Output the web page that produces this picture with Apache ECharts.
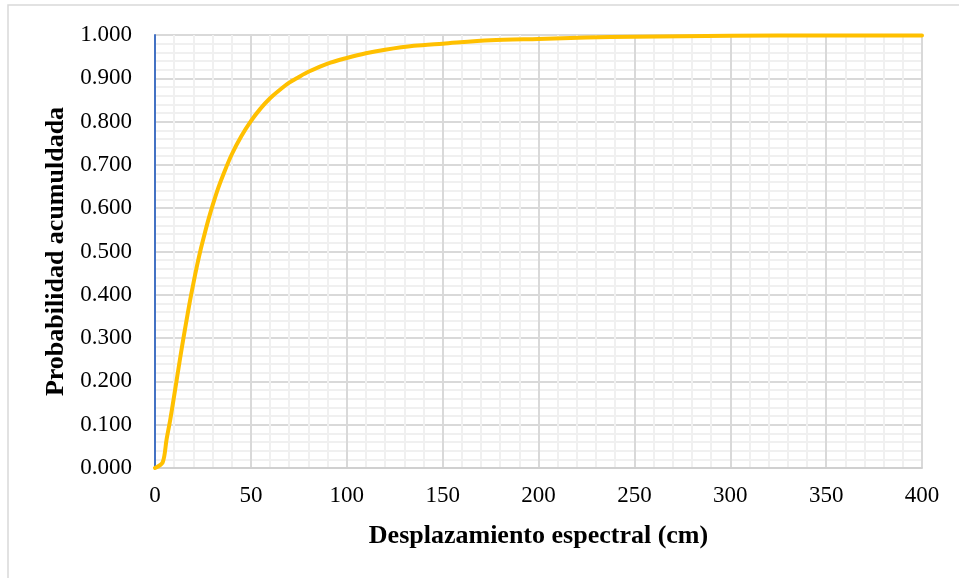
<!DOCTYPE html>
<html>
<head>
<meta charset="utf-8">
<script src="https://cdn.jsdelivr.net/npm/echarts@6/dist/echarts.min.js"></script>
<style>
  html, body { margin: 0; padding: 0; background: #ffffff; }
  #chart { width: 959px; height: 578px; }
</style>
</head>
<body>
<div id="chart"></div>
<script>
// Spectral displacement (cm) and cumulative probability
const desplazamiento = [0, 4, 6, 8, 10, 12, 14, 16, 18, 20, 22, 24, 26, 28, 30, 33, 36, 40, 45, 50,
  55, 60, 65, 70, 75, 80, 90, 100, 110, 120, 135, 150, 175, 200, 225, 250, 300, 350, 400];
const probabilidad = [0.000, 0.013, 0.065, 0.113, 0.167, 0.223, 0.278, 0.330, 0.380, 0.426, 0.469,
  0.508, 0.543, 0.576, 0.606, 0.647, 0.682, 0.724, 0.766, 0.801, 0.830, 0.854, 0.873, 0.890, 0.903,
  0.915, 0.934, 0.947, 0.958, 0.966, 0.975, 0.980, 0.988, 0.991, 0.994, 0.996, 0.998, 0.999, 0.999];

const xTitle = 'Desplazamiento espectral (cm)';
const yTitle = 'Probabilidad acumuldada';

const serif = '"Liberation Serif", "Times New Roman", serif';
const chart = echarts.init(document.getElementById('chart'), null, { renderer: 'canvas' });

chart.setOption({
  animation: false,
  backgroundColor: '#ffffff',
  graphic: [{
    type: 'rect',
    shape: { x: 8, y: 5, width: 1200, height: 1200 },
    style: { fill: 'none', stroke: '#d9d9d9', lineWidth: 1.5 },
    silent: true
  }],
  grid: { left: 155, right: 37, top: 35, bottom: 110, containLabel: false },
  xAxis: {
    type: 'value',
    min: 0, max: 400, interval: 50,
    name: xTitle,
    nameLocation: 'middle',
    nameGap: 55,
    nameTextStyle: { fontFamily: serif, fontSize: 26, fontWeight: 'bold', color: '#000' },
    axisLine: { show: true, lineStyle: { color: '#d0d0d0', width: 2 } },
    axisTick: { show: false },
    axisLabel: { fontFamily: serif, fontSize: 23, color: '#000', margin: 16 },
    splitLine: { show: true, lineStyle: { color: '#d9d9d9', width: 2 } },
    minorTick: { show: false, splitNumber: 5 },
    minorSplitLine: { show: true, lineStyle: { color: '#f0f0f0', width: 2 } }
  },
  yAxis: {
    type: 'value',
    min: 0, max: 1, interval: 0.1,
    name: yTitle,
    nameLocation: 'middle',
    nameGap: 75,
    nameTextStyle: { fontFamily: serif, fontSize: 26, fontWeight: 'bold', color: '#000' },
    axisLine: { show: true, lineStyle: { color: '#4472c4', width: 2 } },
    axisTick: { show: false },
    axisLabel: {
      fontFamily: serif, fontSize: 23, color: '#000', margin: 23,
      formatter: v => v.toFixed(3)
    },
    splitLine: { show: true, lineStyle: { color: '#d9d9d9', width: 2 } },
    minorTick: { show: false, splitNumber: 5 },
    minorSplitLine: { show: true, lineStyle: { color: '#f0f0f0', width: 2 } }
  },
  series: [{
    type: 'line',
    data: desplazamiento.map((x, i) => [x, probabilidad[i]]),
    showSymbol: false,
    smooth: 0.3,
    lineStyle: { color: '#ffc000', width: 4, cap: 'round', join: 'round' },
    z: 5
  }]
});
</script>
</body>
</html>
